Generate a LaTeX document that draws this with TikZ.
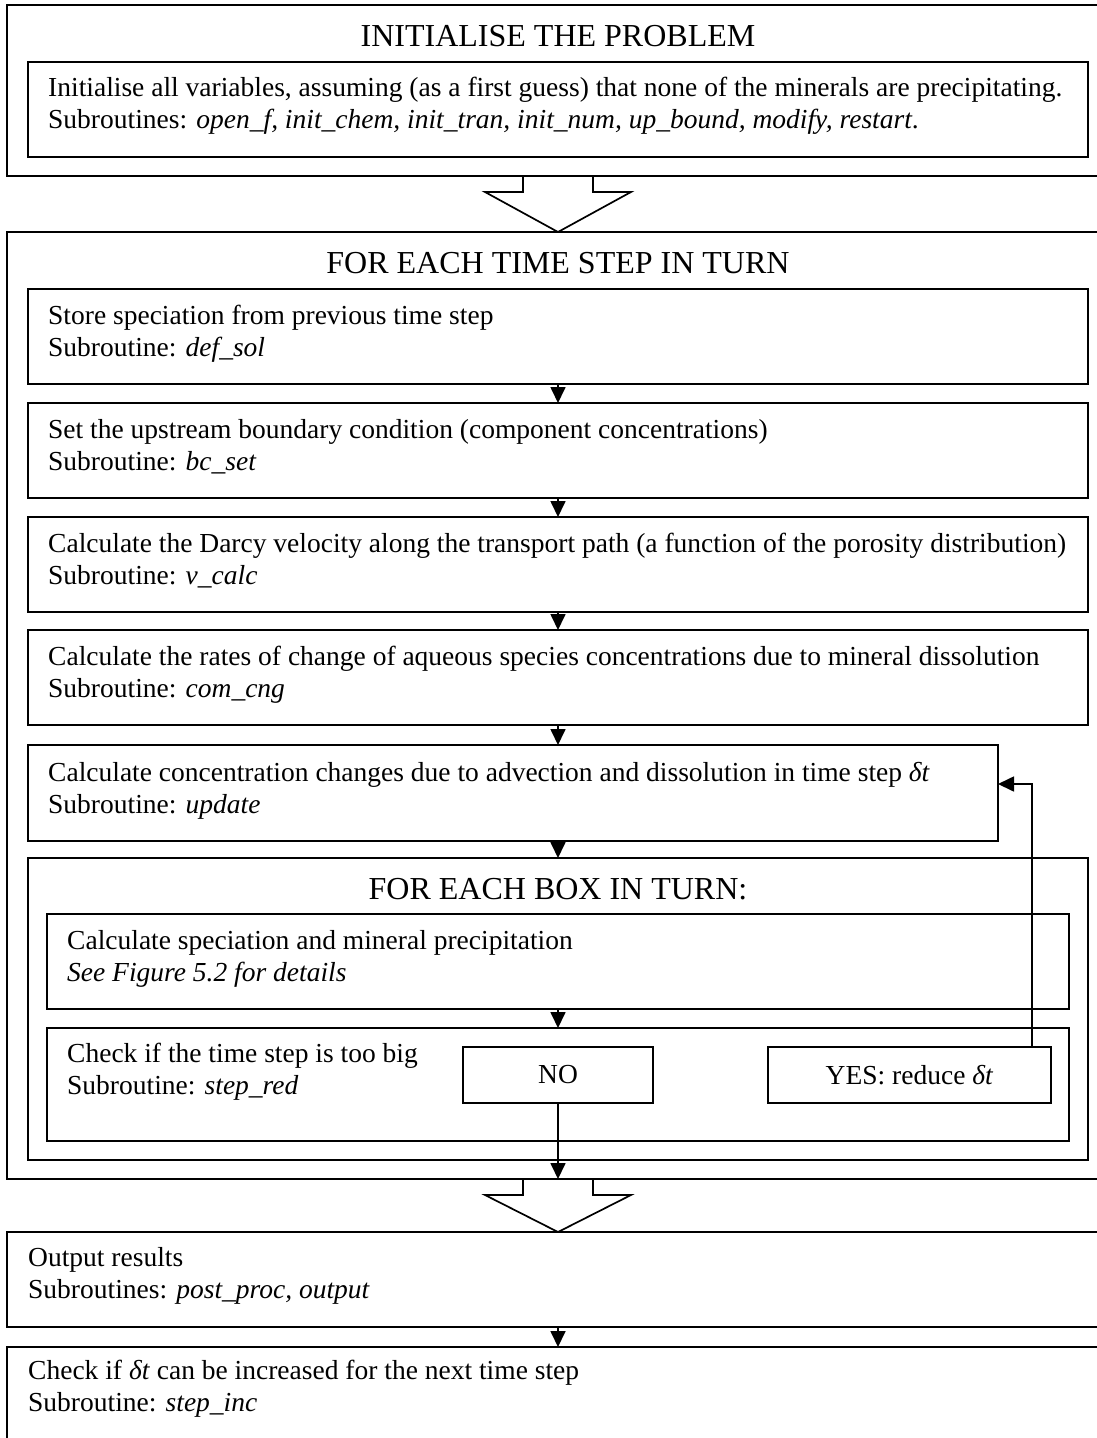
\documentclass[tikz,border=0pt]{standalone}
\usepackage{fontspec}
\setmainfont{Liberation Serif}
\usetikzlibrary{arrows.meta,calc}

\tikzset{
  frame/.style={draw, line width=1.7pt, inner sep=0pt, outer sep=0pt, anchor=north west},
  body/.style={anchor=base west, inner sep=0pt, font=\fontsize{27.5}{32}\selectfont},
  heading/.style={anchor=base, inner sep=0pt, font=\fontsize{32}{36}\selectfont},
  choice/.style={anchor=center, inner sep=0pt, font=\fontsize{27.5}{32}\selectfont},
  flow/.style={line width=1.7pt, -{Triangle[length=16pt,width=15pt]}},
  bigarrow/.style={draw, line width=1.7pt, line join=miter},
}

\begin{document}
\begin{tikzpicture}[x=1pt, y=-1pt]
\useasboundingbox (0,0) rectangle (1097,1438);

% ---------- initialisation ----------
\node[frame, minimum width=1102pt, minimum height=171pt] (o1) at (7,5) {};
\node[heading] (o1t) at (558,46) {INITIALISE THE PROBLEM};
\node[frame, minimum width=1060pt, minimum height=95pt] (init) at (28,62) {};
\node[body] (init1) at (48,96) {Initialise all variables, assuming (as a first guess) that none of the minerals are precipitating.};
\node[body] (init2) at (48,128) {Subroutines: \textit{open\_f, init\_chem, init\_tran, init\_num, up\_bound, modify, restart}.};

% ---------- time stepping loop ----------
\node[frame, minimum width=1102pt, minimum height=947pt] (o2) at (7,232) {};
\node[heading] (o2t) at (558,273) {FOR EACH TIME STEP IN TURN};

\node[frame, minimum width=1060pt, minimum height=95pt] (b1) at (28,289) {};
\node[body] (b1a) at (48,324) {Store speciation from previous time step};
\node[body] (b1b) at (48,356) {Subroutine: \textit{def\_sol}};

\node[frame, minimum width=1060pt, minimum height=95pt] (b2) at (28,403) {};
\node[body] (b2a) at (48,438) {Set the upstream boundary condition (component concentrations)};
\node[body] (b2b) at (48,470) {Subroutine: \textit{bc\_set}};

\node[frame, minimum width=1060pt, minimum height=95pt] (b3) at (28,517) {};
\node[body] (b3a) at (48,552) {Calculate the Darcy velocity along the transport path (a function of the porosity distribution)};
\node[body] (b3b) at (48,584) {Subroutine: \textit{v\_calc}};

\node[frame, minimum width=1060pt, minimum height=95pt] (b4) at (28,630) {};
\node[body] (b4a) at (48,665) {Calculate the rates of change of aqueous species concentrations due to mineral dissolution};
\node[body] (b4b) at (48,697) {Subroutine: \textit{com\_cng}};

\node[frame, minimum width=970pt, minimum height=96pt] (b5) at (28,745) {};
\node[body] (b5a) at (48,781) {Calculate concentration changes due to advection and dissolution in time step \textit{δt}};
\node[body] (b5b) at (48,813) {Subroutine: \textit{update}};

% ---------- inner loop over boxes ----------
\node[frame, minimum width=1060pt, minimum height=302pt] (loop) at (28,858) {};
\node[heading] (loopt) at (558,899) {FOR EACH BOX IN TURN:};

\node[frame, minimum width=1022pt, minimum height=95pt] (calc) at (47,914) {};
\node[body] (calca) at (67,949) {Calculate speciation and mineral precipitation};
\node[body] (calcb) at (67,981) {\textit{See Figure 5.2 for details}};

\node[frame, minimum width=1022pt, minimum height=113pt] (check) at (47,1028) {};
\node[body] (checka) at (67,1062) {Check if the time step is too big};
\node[body] (checkb) at (67,1094) {Subroutine: \textit{step\_red}};

\node[frame, minimum width=190pt, minimum height=56pt] (no) at (463,1047) {};
\node[choice] at (no.center) {NO};
\node[frame, minimum width=283pt, minimum height=56pt] (yes) at (768,1047) {};
\node[choice] at (yes.center) {YES: reduce \textit{δt}};

% ---------- output ----------
\node[frame, minimum width=1102pt, minimum height=95pt] (out) at (7,1232) {};
\node[body] (outa) at (28,1266) {Output results};
\node[body] (outb) at (28,1298) {Subroutines: \textit{post\_proc, output}};

\node[frame, minimum width=1102pt, minimum height=120pt] (inc) at (7,1347) {};
\node[body] (inca) at (28,1379) {Check if \textit{δt} can be increased for the next time step};
\node[body] (incb) at (28,1411) {Subroutine: \textit{step\_inc}};

% ---------- connectors ----------
\draw[flow] (b1.south) -- (b2.north);
\draw[flow] (b2.south) -- (b3.north);
\draw[flow] (b3.south) -- (b4.north);
\draw[flow] (b4.south) -- (b5.north -| b4.south);
\draw[flow] (b5.south -| loop.north) -- (loop.north);
\draw[flow] (calc.south) -- (check.north);
\draw[flow] (no.south) -- (no.south |- o2.south);
\coordinate (turn) at (1032,784);
\draw[flow] (yes.north -| turn) -- (turn) -- (turn -| b5.east);
\draw[flow] (out.south) -- (inc.north);

% hollow block arrows between the main stages
\draw[bigarrow] ($(o1.south)+(-35,0)$) -- ++(0,16) -- ++(-38,0) -- (o2.north)
  -- ($(o1.south)+(73,16)$) -- ++(-38,0) -- ++(0,-16);
\draw[bigarrow] ($(o2.south)+(-35,0)$) -- ++(0,16) -- ++(-38,0) -- (out.north)
  -- ($(o2.south)+(73,16)$) -- ++(-38,0) -- ++(0,-16);
\end{tikzpicture}
\end{document}
